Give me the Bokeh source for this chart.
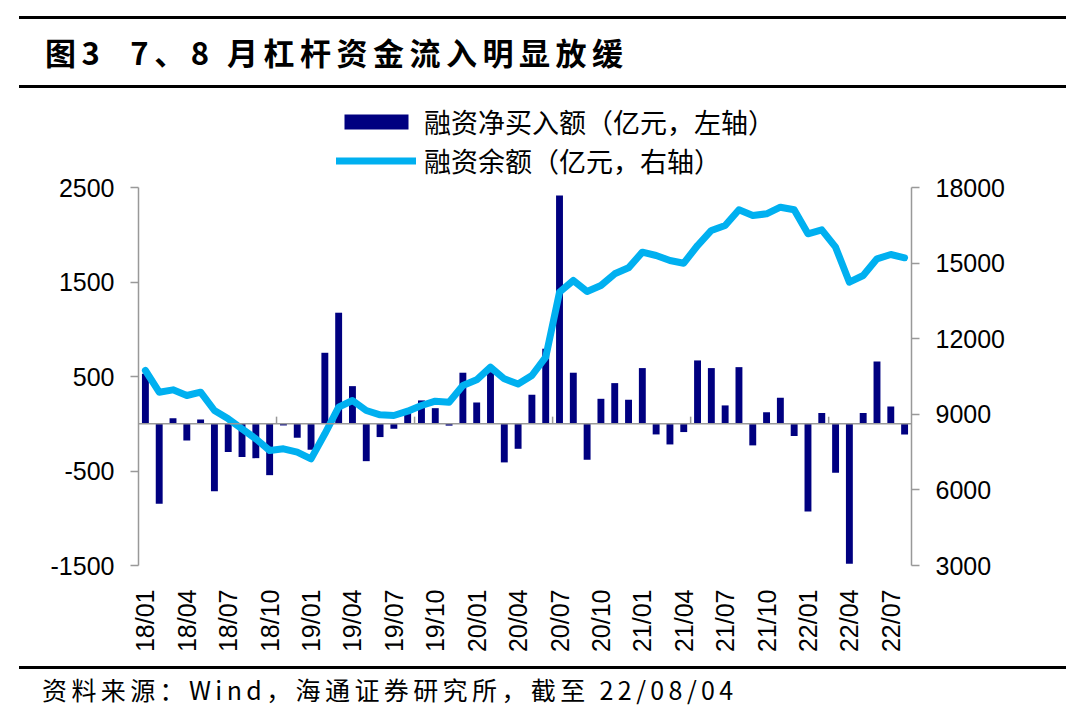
from bokeh.plotting import figure
from bokeh.models import (Range1d, LinearAxis, FixedTicker, Span, Legend, LegendItem,
                          Div, ColumnDataSource)
from bokeh.layouts import column
from bokeh.embed import file_html
from bokeh.resources import INLINE
import math

months = [
    "18/01", "18/02", "18/03", "18/04", "18/05", "18/06", "18/07", "18/08", "18/09", "18/10", "18/11", "18/12",
    "19/01", "19/02", "19/03", "19/04", "19/05", "19/06", "19/07", "19/08", "19/09", "19/10", "19/11", "19/12",
    "20/01", "20/02", "20/03", "20/04", "20/05", "20/06", "20/07", "20/08", "20/09", "20/10", "20/11", "20/12",
    "21/01", "21/02", "21/03", "21/04", "21/05", "21/06", "21/07", "21/08", "21/09", "21/10", "21/11", "21/12",
    "22/01", "22/02", "22/03", "22/04", "22/05", "22/06", "22/07", "22/08",
]

net_buy = [
    530, -847, 59, -177, 45, -713, -300, -353, -364, -544, -18, -148,
    -275, 751, 1175, 398, -396, -141, -53, 141, 247, 165, -20, 540,
    225, 546, -409, -265, 307, 794, 2416, 540, -381, 264, 430, 254,
    589, -113, -219, -88, 670, 589, 194, 599, -229, 123, 275, -130,
    -928, 113, -519, -1481, 113, 659, 183, -113,
]

balance = [
    10738, 9878, 9970, 9746, 9878, 9151, 8820, 8425, 8028, 7563, 7630, 7497,
    7233, 8226, 9282, 9548, 9151, 8980, 8952, 9123, 9349, 9520, 9480, 10143,
    10369, 10869, 10408, 10200, 10540, 11266, 13846, 14310, 13873, 14111, 14575, 14813,
    15433, 15302, 15103, 14996, 15698, 16294, 16492, 17115, 16889, 16955, 17218, 17115,
    16163, 16321, 15631, 14242, 14508, 15171, 15341, 15210,
]

left_ticks = [-1500, -500, 500, 1500, 2500]
left_tick_labels = ["-1500", "-500", "500", "1500", "2500"]
right_ticks = [3000, 6000, 9000, 12000, 15000, 18000]
label_every = 3
boundary_every = 10

title_text = "图3&nbsp;&nbsp;7、8 月杠杆资金流入明显放缓"
legend_bar = "融资净买入额（亿元，左轴）"
legend_line = "融资余额（亿元，右轴）"
source_text = "资料来源：Wind，海通证券研究所，截至 22/08/04"

BAR_COLOR = "#000080"
LINE_COLOR = "#00B0F0"
AXIS_COLOR = "#999999"
NUM_FONT = "Liberation Sans"
CJK_FONT = "Noto Sans CJK SC"
W = 1064

# layout geometry (pixels)
FIG_H = 570
BORDER_BOTTOM = 95
AXIS_PX = 378            # height of the drawn axis span
FRAME_H = FIG_H - BORDER_BOTTOM
EXTRA_PX = FRAME_H - AXIS_PX   # room above the axes for the legend

def extend(lo, hi):
    return hi + (hi - lo) * EXTRA_PX / AXIS_PX

idx = list(range(len(months)))
src = ColumnDataSource(dict(x=idx, net=net_buy, bal=balance))

p = figure(width=W, height=FIG_H, output_backend="svg", toolbar_location=None,
           x_range=Range1d(-0.5, len(months) - 0.5),
           y_range=Range1d(left_ticks[0], extend(left_ticks[0], left_ticks[-1])),
           min_border_left=138, min_border_right=153, min_border_top=0, min_border_bottom=BORDER_BOTTOM)
p.extra_y_ranges = {"right": Range1d(right_ticks[0], extend(right_ticks[0], right_ticks[-1]))}
p.outline_line_color = None
p.xgrid.grid_line_color = None
p.ygrid.grid_line_color = None
p.background_fill_color = "white"
p.border_fill_color = "white"

zero = Span(location=0, dimension="width", line_color=AXIS_COLOR, line_width=1.5)
p.add_layout(zero)

bxs = [i + 0.5 for i in range(boundary_every - 1, len(months), boundary_every)]
p.segment(x0=bxs, x1=bxs, y0=[0] * len(bxs), y1=[75] * len(bxs), line_color=AXIS_COLOR, line_width=1.5)

bars = p.vbar(x="x", top="net", width=0.5, bottom=0, source=src, fill_color=BAR_COLOR, line_color=None)
line = p.line(x="x", y="bal", source=src, line_color=LINE_COLOR, line_width=7,
              line_join="round", line_cap="round", y_range_name="right")

def style_axis(ax):
    ax.axis_line_color = AXIS_COLOR
    ax.axis_line_width = 1.5
    ax.major_tick_line_color = AXIS_COLOR
    ax.major_tick_line_width = 1.5
    ax.major_tick_out = 8
    ax.major_tick_in = 0
    ax.minor_tick_line_color = None
    ax.major_label_text_font = NUM_FONT
    ax.major_label_text_font_size = "25px"
    ax.major_label_text_color = "black"
    ax.major_label_standoff = 16

yl = p.yaxis[0]
yl.ticker = FixedTicker(ticks=left_ticks)
yl.major_label_overrides = dict(zip(left_ticks, left_tick_labels))
yl.bounds = (left_ticks[0], left_ticks[-1])
style_axis(yl)

yr = LinearAxis(y_range_name="right", ticker=FixedTicker(ticks=right_ticks),
                bounds=(right_ticks[0], right_ticks[-1]))
style_axis(yr)
p.add_layout(yr, "right")

xa = p.xaxis[0]
tick_pos = list(range(0, len(months), label_every))
xa.ticker = FixedTicker(ticks=tick_pos)
xa.major_label_overrides = {i: months[i] for i in tick_pos}
xa.major_label_orientation = math.pi / 2
xa.axis_line_color = None
xa.major_tick_line_color = None
xa.minor_tick_line_color = None
xa.major_label_text_font = NUM_FONT
xa.major_label_text_font_size = "25px"
xa.major_label_text_color = "black"
xa.major_label_standoff = 18

legend = Legend(items=[LegendItem(label=legend_bar, renderers=[bars]),
                       LegendItem(label=legend_line, renderers=[line])],
                location=(198, 385), orientation="vertical",
                glyph_width=80, glyph_height=19, label_standoff=8, spacing=-12,
                padding=0, margin=0, border_line_color=None, background_fill_alpha=0,
                label_text_font=CJK_FONT, label_text_font_size="27px", label_text_color="black")
p.add_layout(legend)

title_html = (
    '<div style="position:relative;width:1064px;height:90px;">'
    '<div style="position:absolute;left:19px;top:16px;width:1047px;border-top:3px solid #000;"></div>'
    '<div style="position:absolute;left:45px;top:36px;font-family:\'Noto Sans CJK SC\';font-weight:bold;'
    'font-size:31px;line-height:1;letter-spacing:5.5px;white-space:nowrap;color:#000;">' + title_text + '</div>'
    '<div style="position:absolute;left:19px;top:85px;width:1047px;border-top:3px solid #000;"></div>'
    '</div>'
)
footer_html = (
    '<div style="position:relative;width:1064px;height:60px;">'
    '<div style="position:absolute;left:19px;top:6px;width:1047px;border-top:3px solid #000;"></div>'
    '<div style="position:absolute;left:42px;top:17px;font-family:\'Noto Sans CJK SC\',\'Liberation Sans\';'
    'font-size:25px;line-height:1;letter-spacing:4.4px;white-space:nowrap;color:#000;">' + source_text + '</div>'
    '</div>'
)
title_div = Div(text=title_html, width=W, height=90, margin=0)
footer_div = Div(text=footer_html, width=W, height=60, margin=0)

layout = column(title_div, p, footer_div, spacing=0)
open("out.html", "w").write(file_html(layout, INLINE))
